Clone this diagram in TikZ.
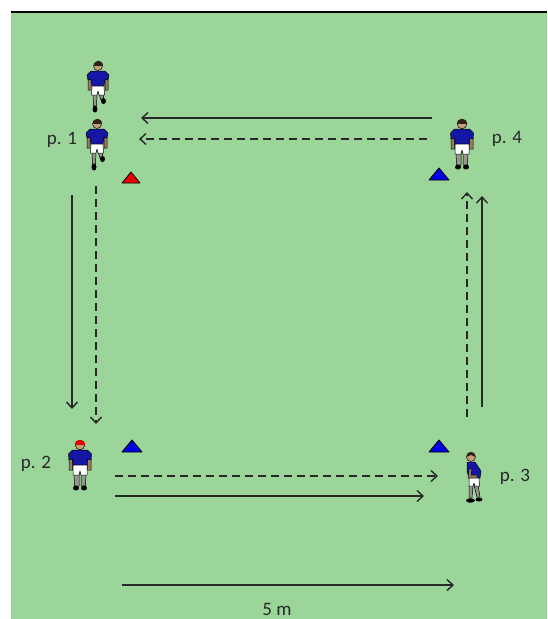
\documentclass[tikz,border=0pt]{standalone}
\usepackage{fontspec}
\setmainfont{Carlito}
\usetikzlibrary{arrows.meta}

\definecolor{pitch}{RGB}{155,213,154}
\definecolor{ink}{RGB}{40,40,40}
\definecolor{jersey}{RGB}{22,22,165}
\definecolor{skinc}{RGB}{200,160,120}
\definecolor{armc}{RGB}{150,125,95}
\definecolor{hairc}{RGB}{50,35,25}
\definecolor{sockc}{RGB}{150,150,140}
\definecolor{conered}{RGB}{230,0,0}
\definecolor{coneblue}{RGB}{0,0,230}

\tikzset{
  run/.style={draw=ink, line width=1.4pt, -{Straight Barb[length=6pt,width=11pt,line width=1.4pt]}},
  rundash/.style={run, line width=2.2pt, dash pattern=on 8pt off 5pt},
  label/.style={font=\fontsize{19}{21}\selectfont, text=ink, inner sep=0pt},
  outline/.style={draw=black, line width=0.5pt, line join=round},
  cone/.style={outline, line width=0.8pt},
  % player seen from the front, one knee lifted
  pics/runner/.style={code={
    \filldraw[outline, fill=skinc] (0,-20) circle (4.5);
    \fill[hairc] (-4.5,-20) .. controls (-4.5,-27) and (4.5,-27) .. (4.5,-20) -- cycle;
    \filldraw[outline, fill=armc] (-10,-6) -- (-7,-7) -- (-7,4) -- (-10,4) -- cycle;
    \filldraw[outline, fill=armc] (10,-6) -- (7,-7) -- (7,4) -- (10,4) -- cycle;
    \filldraw[outline, fill=jersey] (-7,-15) -- (7,-15) -- (11,-11) -- (10,-6) -- (7,-7)
      -- (6,0) -- (-6,0) -- (-7,-7) -- (-10,-6) -- (-11,-11) -- cycle;
    \filldraw[outline, fill=sockc] (-5,8) -- (-1,8) -- (-1.5,20) -- (-4.5,20) -- cycle;
    \filldraw[outline, fill=sockc] (1,8) -- (5,8) -- (6,13) -- (3,14) -- cycle;
    \filldraw[outline, fill=white] (-6,0) -- (6,0) -- (6.5,9) -- (1,9) -- (0,5) -- (-1,9)
      -- (-6.5,9) -- cycle;
    \fill[black] (-3,23) ellipse (2.5 and 3.5);
    \fill[black] (5.5,15) ellipse (2.5 and 3);
  }},
  % player standing still, face or back towards the viewer
  pics/stander/.style={code={
    \filldraw[outline, fill=skinc] (0,-20) circle (4.8);
    \fill[#1] (-4.8,-20) .. controls (-4.8,-27.5) and (4.8,-27.5) .. (4.8,-20) -- cycle;
    \filldraw[outline, fill=armc] (-11,-6) -- (-7.5,-7) -- (-7.5,5) -- (-11,5) -- cycle;
    \filldraw[outline, fill=armc] (11,-6) -- (7.5,-7) -- (7.5,5) -- (11,5) -- cycle;
    \filldraw[outline, fill=jersey] (-7.5,-15) -- (7.5,-15) -- (11.5,-11) -- (11,-5) -- (7.5,-6)
      -- (7,0) -- (-7,0) -- (-7.5,-6) -- (-11,-5) -- (-11.5,-11) -- cycle;
    \filldraw[outline, fill=sockc] (-6,8) -- (-1,8) -- (-1,21) -- (-5.5,21) -- cycle;
    \filldraw[outline, fill=sockc] (1,8) -- (6,8) -- (5.5,21) -- (1,21) -- cycle;
    \filldraw[outline, fill=white] (-7,0) -- (7,0) -- (7,10) -- (1,10) -- (0,6) -- (-1,10)
      -- (-7,10) -- cycle;
    \fill[black] (-4,23) ellipse (3 and 2.5);
    \fill[black] (4,23) ellipse (3 and 2.5);
  }},
  pics/stander/.default=hairc,
  % player seen from the side, turning
  pics/sider/.style={code={
    \filldraw[outline, fill=skinc] (-3,-20) circle (4.5);
    \fill[hairc] (-7.5,-20) .. controls (-7.5,-27) and (1.5,-27) .. (1.5,-20) -- (-3,-22) -- cycle;
    \filldraw[outline, fill=sockc] (-5,8) -- (-1,8) -- (-2,21) -- (-5,21) -- cycle;
    \filldraw[outline, fill=sockc] (0,8) -- (4,8) -- (6,20) -- (3,20) -- cycle;
    \filldraw[outline, fill=jersey] (-7,-15) -- (1,-15) -- (7,-6) -- (6,1) -- (-5,1) -- (-7,-6) -- cycle;
    \filldraw[outline, fill=armc] (-5,-8) -- (-2,-8) -- (-3,-2) -- (3,-2) -- (3,1) -- (-6,1) -- cycle;
    \filldraw[outline, fill=white] (-5,1) -- (5,1) -- (5.5,9) -- (1,9) -- (0,6) -- (-1,9) -- (-5,9) -- cycle;
    \fill[black] (-3.5,23.5) ellipse (4.5 and 2.2);
    \fill[black] (5,22.5) ellipse (3.5 and 2);
  }},
}

\begin{document}
\begin{tikzpicture}[x=1pt, y=-1pt]
  \useasboundingbox (0,0) rectangle (547,619);
  \fill[white] (0,0) rectangle (547,619);
  \fill[pitch] (11,12) rectangle (547,619);
  \draw[black, line width=1.6pt] (11,11.8) -- (547,11.8);

  % players
  \pic (pA) at (98,86) {runner};
  \pic (p1) at (97,144) {runner};
  \pic (p4) at (462,144) {stander};
  \pic (p2) at (80,465) {stander=conered};
  \pic (p3) at (474,477) {sider};

  % labels
  \node[label] (l1) at (62,140) {p. 1};
  \node[label] (l4) at (507,139) {p. 4};
  \node[label] (l2) at (36,464) {p. 2};
  \node[label] (l3) at (515,477) {p. 3};

  % cones
  \filldraw[cone, fill=conered]  (122,183) -- (140,183) -- (131,172) -- cycle;
  \filldraw[cone, fill=coneblue] (429,180) -- (449,180) -- (439,168) -- cycle;
  \filldraw[cone, fill=coneblue] (122,452) -- (142,452) -- (132,440) -- cycle;
  \filldraw[cone, fill=coneblue] (429,452) -- (449,452) -- (439,440) -- cycle;

  % movement paths
  \coordinate (tS1) at (432,118);   \coordinate (tE1) at (141,118);
  \coordinate (tS2) at (427,139);   \coordinate (tE2) at (139,139);
  \coordinate (lS1) at (72,195);    \coordinate (lE1) at (72,409);
  \coordinate (lS2) at (96,186);    \coordinate (lE2) at (96,424);
  \coordinate (bS1) at (115,476);   \coordinate (bE1) at (438,476);
  \coordinate (bS2) at (115,496);   \coordinate (bE2) at (424,496);
  \coordinate (rS1) at (467,417);   \coordinate (rE1) at (467,192);
  \coordinate (rS2) at (482,407);   \coordinate (rE2) at (482,196);

  \draw[run] (tS1) -- (tE1);
  \draw[rundash] (tS2) -- (tE2);
  \draw[run] (lS1) -- (lE1);
  \draw[rundash] (lS2) -- (lE2);
  \draw[rundash] (bS1) -- (bE1);
  \draw[run] (bS2) -- (bE2);
  \draw[rundash] (rS1) -- (rE1);
  \draw[run] (rS2) -- (rE2);

  % distance scale
  \coordinate (sS) at (122,585);
  \coordinate (sE) at (454,585);
  \draw[run] (sS) -- (sE);
  \node[label, anchor=base] (sL) at (277,615) {5 m};
\end{tikzpicture}
\end{document}
